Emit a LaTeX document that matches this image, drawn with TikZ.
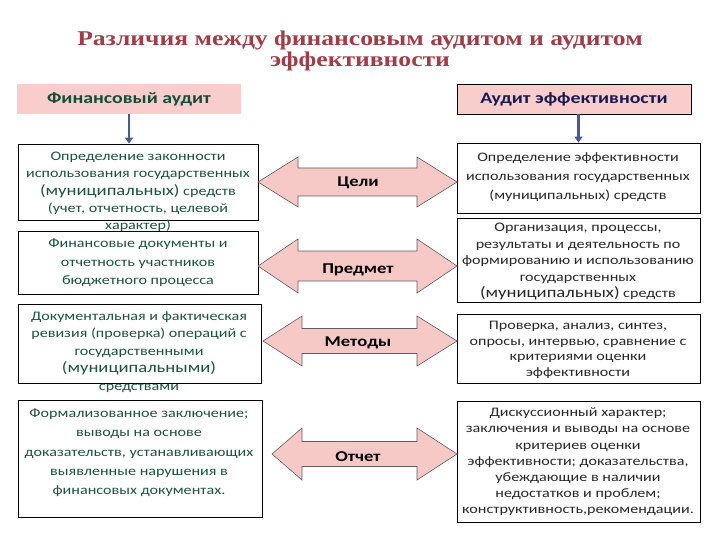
\documentclass[tikz,border=0pt]{standalone}
\usepackage{fontspec}
\setmainfont{Carlito}[FakeStretch=1.24]
\newfontfamily\titlefont{Liberation Serif}[FakeStretch=1.22]
\usetikzlibrary{arrows.meta}
\definecolor{titlecol}{RGB}{160,62,72}
\definecolor{pinkfill}{RGB}{250,205,205}
\definecolor{arrfill}{RGB}{246,200,198}
\definecolor{arrline}{RGB}{95,95,95}
\definecolor{lhtext}{RGB}{18,78,58}
\definecolor{lbody}{RGB}{30,82,66}
\definecolor{rhtext}{RGB}{25,25,80}
\definecolor{rbody}{RGB}{40,40,40}
\definecolor{varcol}{RGB}{72,92,140}
\newcommand\dblarr[8]{%
  \draw[dblar] (#1,#5) -- (#2,#5-#6) -- (#2,#5-#7) -- (#3,#5-#7) -- (#3,#5-#6) -- (#4,#5)
    -- (#3,#5+#6) -- (#3,#5+#7) -- (#2,#5+#7) -- (#2,#5+#6) -- cycle;
  \coordinate (#8) at ({(#1+#4)/2},#5);}
\newcommand\bigmuni[1]{{\fontsize{15}{15}\selectfont #1}}
\begin{document}
\begin{tikzpicture}[x=1pt,y=-1pt,
  titlenode/.style={font=\titlefont\bfseries\fontsize{21}{17}\selectfont, align=center, text=titlecol, inner sep=0},
  headbox/.style={minimum height=30pt, inner sep=0, fill=pinkfill, font=\bfseries\fontsize{16}{18}\selectfont},
  box/.style={draw=black, line width=0.8pt, inner sep=0},
  ltext/.style={align=center, inner sep=0, text=lbody},
  rtext/.style={align=center, inner sep=0, text=rbody},
  dblar/.style={fill=arrfill, draw=arrline, line width=0.6pt, line join=miter},
  alabel/.style={font=\bfseries\fontsize{15}{16}\selectfont, inner sep=0, text=black},
  varrow/.style={draw=varcol, line width=2.8pt, -{Triangle[length=6pt,width=8pt]}}
]
\useasboundingbox (0,0) rectangle (720,540);
\fill[white] (0,0) rectangle (720,540);

\node[titlenode] (title) at (360,51) {Различия между финансовым аудитом и аудитом\\эффективности};

\node[headbox, minimum width=224pt, text=lhtext] (lh) at (129,99) {Финансовый аудит};
\node[headbox, minimum width=234pt, draw=black, line width=0.8pt, text=rhtext] (rh) at (574,99) {Аудит эффективности};

% boxes
\node[box, minimum width=240pt, minimum height=76pt] (l1) at (138,182) {};
\node[box, minimum width=240pt, minimum height=63pt] (l2) at (138,262.5) {};
\node[box, minimum width=243pt, minimum height=79pt] (l3) at (139.5,343.5) {};
\node[box, minimum width=244pt, minimum height=117pt] (l4) at (140,458.5) {};
\node[box, minimum width=243pt, minimum height=70pt] (r1) at (578.5,178) {};
\node[box, minimum width=243pt, minimum height=84pt] (r2) at (578.5,260) {};
\node[box, minimum width=243pt, minimum height=69pt] (r3) at (578.5,348.5) {};
\node[box, minimum width=243pt, minimum height=121pt] (r4) at (578.5,461.5) {};

% vertical arrows
\draw[varrow] (lh.south) -- (lh.south |- l1.north);
\draw[varrow] (rh.south -| r1.north) -- (r1.north);

% box texts
\node[ltext, font=\fontsize{13}{17.3}\selectfont] (l1t) at (138,192)
  {Определение законности\\использования государственных\\\bigmuni{(муниципальных)} средств\\(учет, отчетность, целевой\\характер)};
\node[ltext, font=\fontsize{13}{18.5}\selectfont] (l2t) at (138,263)
  {Финансовые документы и\\отчетность участников\\бюджетного процесса};
\node[ltext, font=\fontsize{13}{17.5}\selectfont] (l3t) at (139,352)
  {Документальная и фактическая\\ревизия (проверка) операций с\\государственными\\\bigmuni{(муниципальными)}\\средствами};
\node[ltext, font=\fontsize{13}{19.3}\selectfont] (l4t) at (139,453)
  {Формализованное заключение;\\выводы на основе\\доказательств, устанавливающих\\выявленные нарушения в\\финансовых документах.};
\node[rtext, font=\fontsize{13}{19}\selectfont] (r1t) at (578,177)
  {Определение эффективности\\использования государственных\\(муниципальных) средств};
\node[rtext, font=\fontsize{13}{16.5}\selectfont] (r2t) at (578,262)
  {Организация, процессы,\\результаты и деятельность по\\формированию и использованию\\государственных\\\bigmuni{(муниципальных)} средств};
\node[rtext, font=\fontsize{13}{15.7}\selectfont] (r3t) at (578,350)
  {Проверка, анализ, синтез,\\опросы, интервью, сравнение с\\критериями оценки\\эффективности};
\node[rtext, font=\fontsize{13}{16.2}\selectfont] (r4t) at (578,462)
  {Дискуссионный характер;\\заключения и выводы на основе\\критериев оценки\\эффективности; доказательства,\\убеждающие в наличии\\недостатков и проблем;\\конструктивность,рекомендации.};

% double arrows
\dblarr{258}{298}{417}{457}{182}{25}{14}{a1}
\dblarr{258}{298}{417}{457}{266}{27}{15}{a2}
\dblarr{263}{302}{417}{457}{341}{25}{12.5}{a3}
\dblarr{272}{302}{417}{457}{454}{26}{12.5}{a4}

\node[alabel] (goal) at (358,183) {Цели};
\node[alabel] (subj) at (358,270) {Предмет};
\node[alabel] (meth) at (358,343) {Методы};
\node[alabel] (rep) at (358,457) {Отчет};
\end{tikzpicture}
\end{document}
